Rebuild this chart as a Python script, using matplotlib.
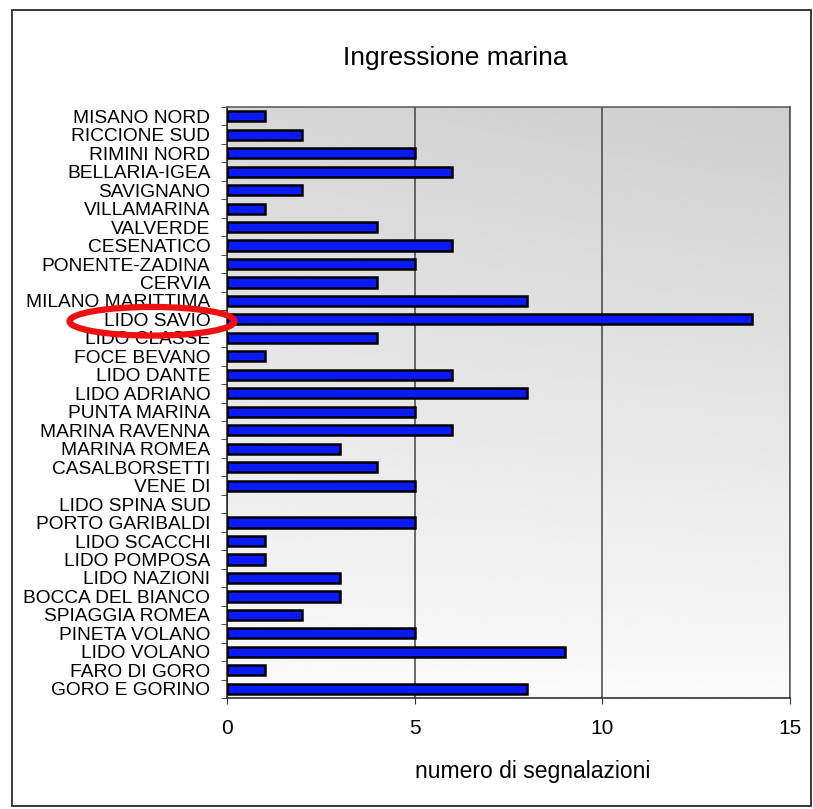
import numpy as np
import matplotlib.pyplot as plt
from matplotlib.patches import Ellipse, Rectangle
from matplotlib.transforms import blended_transform_factory

plt.rcParams['font.family'] = ['Liberation Sans', 'DejaVu Sans']

localities = ['MISANO NORD', 'RICCIONE SUD', 'RIMINI NORD', 'BELLARIA-IGEA', 'SAVIGNANO',
              'VILLAMARINA', 'VALVERDE', 'CESENATICO', 'PONENTE-ZADINA', 'CERVIA',
              'MILANO MARITTIMA', 'LIDO SAVIO', 'LIDO CLASSE', 'FOCE BEVANO', 'LIDO DANTE',
              'LIDO ADRIANO', 'PUNTA MARINA', 'MARINA RAVENNA', 'MARINA ROMEA', 'CASALBORSETTI',
              'VENE DI', 'LIDO SPINA SUD', 'PORTO GARIBALDI', 'LIDO SCACCHI', 'LIDO POMPOSA',
              'LIDO NAZIONI', 'BOCCA DEL BIANCO', 'SPIAGGIA ROMEA', 'PINETA VOLANO', 'LIDO VOLANO',
              'FARO DI GORO', 'GORO E GORINO']
reports = [1, 2, 5, 6, 2, 1, 4, 6, 5, 4, 8, 14, 4, 1, 6, 8, 5, 6, 3, 4,
           5, 0, 5, 1, 1, 3, 3, 2, 5, 9, 1, 8]
xticks = [0, 5, 10, 15]
highlight = 'LIDO SAVIO'

fig = plt.figure(figsize=(8.13, 8.09), dpi=100)
fig.patch.set_facecolor('white')
# outer frame
fig.patches.append(Rectangle((12 / 813, 1 - 806 / 809), 799 / 813, 796 / 809,
                             transform=fig.transFigure, fill=False,
                             edgecolor='#3a3a3a', linewidth=1.4))

ax = fig.add_axes([0.2792, 0.1372, 0.6925, 0.7305])

# gray gradient background, darker at the top
yy, xx = np.mgrid[0:1:200j, 0:1:200j]
shade = 0.81 + 0.17 * yy + 0.03 * (1 - xx) * (1 - yy)
ax.imshow(np.clip(shade, 0, 1), cmap='gray', vmin=0, vmax=1, origin='upper',
          extent=[0, 1, 0, 1], transform=ax.transAxes, aspect='auto', zorder=0)

ypos = np.arange(len(localities))
edge_w = [1.8 if v > 0 else 0 for v in reports]
ax.barh(ypos, reports, height=0.55, color='#0a1aff', edgecolor='black',
        linewidth=edge_w, zorder=3)

ax.set_xlim(0, 15)
ax.set_ylim(len(localities) - 0.5, -0.5)
ax.set_xticks(xticks)
ax.set_xticklabels([str(t) for t in xticks], fontsize=15)
ax.set_yticks(ypos)
ax.set_yticklabels(localities, fontsize=13.8)
ax.set_yticks(np.arange(len(localities) + 1) - 0.5, minor=True)
ax.tick_params(axis='y', which='major', length=0, pad=12)
ax.tick_params(axis='y', which='minor', length=4, direction='out', color='#333333')
ax.tick_params(axis='x', length=4, direction='out', pad=11, color='#333333')
ax.xaxis.grid(True, color='#444444', linewidth=1.1, zorder=1)
ax.set_axisbelow(True)
for sp in ax.spines.values():
    sp.set_color('#555555')
    sp.set_linewidth(1.1)
ax.spines['left'].set_color('#222222')
ax.spines['bottom'].set_color('#222222')

ax.set_xlabel('numero di segnalazioni', fontsize=16.5)
ax.xaxis.set_label_coords(0.543, -0.105)
fig.text(0.56, 1 - 58 / 809, 'Ingressione marina', fontsize=19,
         ha='center', va='center')

# red ring around the highlighted locality
trans = blended_transform_factory(fig.transFigure, ax.transData)
ring = Ellipse((152 / 813, localities.index(highlight) + 0.1), 165 / 813, 1.55,
               transform=trans, fill=False, edgecolor='#ee1111', linewidth=4.5,
               clip_on=False, zorder=10)
fig.patches.append(ring)

fig.savefig('out.png', dpi=100)
